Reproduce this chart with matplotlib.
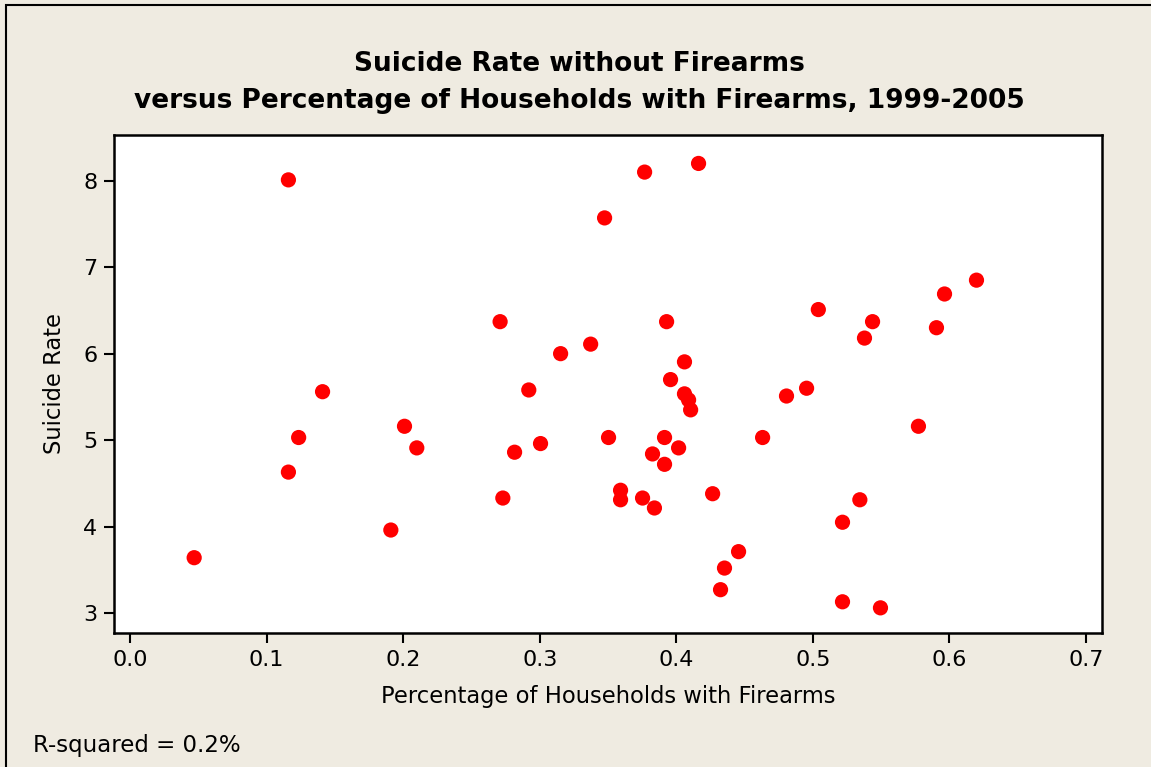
import matplotlib.pyplot as plt
from matplotlib.patches import Rectangle

# Доля домохозяйств с оружием и уровень самоубийств без оружия
firearm_share = [0.047, 0.116, 0.116, 0.1235, 0.141, 0.191, 0.201, 0.210,
                 0.271, 0.273, 0.2816, 0.292, 0.3006, 0.3153, 0.3373, 0.3475,
                 0.3504, 0.3592, 0.3592, 0.3753, 0.3768, 0.3826, 0.384, 0.3914,
                 0.3914, 0.3929, 0.3958, 0.4017, 0.406, 0.406, 0.409, 0.4105,
                 0.4163, 0.4266, 0.4324, 0.4353, 0.4456, 0.4632, 0.4807, 0.4954,
                 0.504, 0.5217, 0.5217, 0.5344, 0.5378, 0.5437, 0.5495, 0.5773,
                 0.5905, 0.5964, 0.6198]
suicide_rate = [3.64, 8.01, 4.63, 5.03, 5.56, 3.96, 5.16, 4.91,
                6.37, 4.33, 4.86, 5.58, 4.96, 6.00, 6.11, 7.57,
                5.03, 4.42, 4.31, 4.33, 8.10, 4.84, 4.215, 5.03,
                4.72, 6.37, 5.70, 4.91, 5.905, 5.535, 5.465, 5.35,
                8.20, 4.38, 3.27, 3.52, 3.71, 5.03, 5.51, 5.60,
                6.51, 4.05, 3.13, 4.31, 6.18, 6.37, 3.06, 5.16,
                6.30, 6.69, 6.85]

x_ticks = [0.0, 0.1, 0.2, 0.3, 0.4, 0.5, 0.6, 0.7]
y_ticks = [3, 4, 5, 6, 7, 8]

bg = '#EFEBE1'
W, H = 1151, 767

fig = plt.figure(figsize=(W / 100, H / 100), dpi=100, facecolor=bg)
ax = fig.add_axes([114 / W, 1 - 633 / H, (1102 - 114) / W, (633 - 135) / H])
ax.set_facecolor('white')

ax.scatter(firearm_share, suicide_rate, s=120, color='#FF0000',
           edgecolors='none', zorder=3)

ax.set_xlim(-0.0117, 0.7117)
ax.set_ylim(2.769, 8.529)
ax.set_xticks(x_ticks)
ax.set_xticklabels([f'{t:.1f}' for t in x_ticks])
ax.set_yticks(y_ticks)

for s in ax.spines.values():
    s.set_linewidth(1.8)
ax.tick_params(direction='out', length=7, width=1.5, labelsize=16, pad=5)

ax.set_xlabel('Percentage of Households with Firearms', fontsize=16.3, labelpad=11)
ax.set_ylabel('Suicide Rate', fontsize=16.3, labelpad=12)

fig.text(0.503, 1 - 71 / H, 'Suicide Rate without Firearms',
         ha='center', va='baseline', fontsize=19, fontweight='bold')
fig.text(0.503, 1 - 108 / H, 'versus Percentage of Households with Firearms, 1999-2005',
         ha='center', va='baseline', fontsize=19, fontweight='bold')

fig.text(33 / W, 1 - 752 / H, 'R-squared = 0.2%', ha='left', va='baseline',
         fontsize=16.5)

# рамка вокруг всей картинки
fig.patches.append(Rectangle((6 / W, -0.1), 1.2, 1 - 5 / H + 0.1,
                             transform=fig.transFigure, fill=False,
                             edgecolor='black', linewidth=1.5))

plt.savefig('out.png', dpi=100, facecolor=bg)
